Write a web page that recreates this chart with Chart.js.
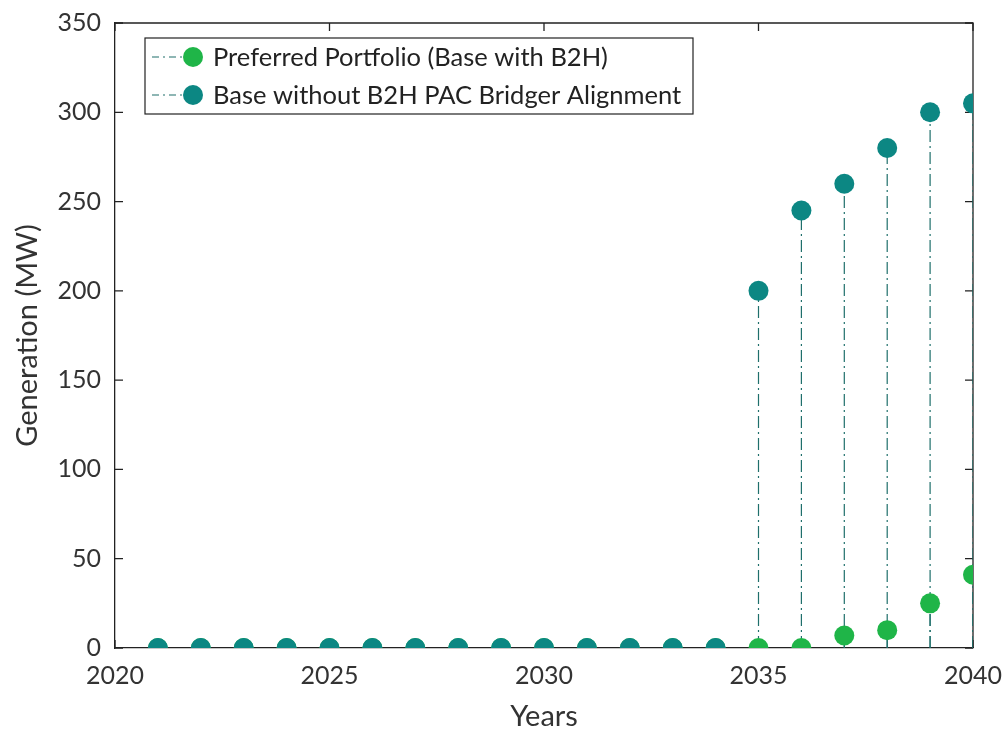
<!DOCTYPE html>
<html>
<head>
<meta charset="utf-8">
<script src="https://cdn.jsdelivr.net/npm/chart.js@4/dist/chart.umd.min.js"></script>
<style>
html,body{margin:0;padding:0;background:#fff;}
#wrap{width:1008px;height:734px;position:relative;}
</style>
</head>
<body>
<div id="wrap"><canvas id="c" width="1008" height="734"></canvas></div>
<script>
const years = [2021,2022,2023,2024,2025,2026,2027,2028,2029,2030,2031,2032,2033,2034,2035,2036,2037,2038,2039,2040];
const preferred = [0,0,0,0,0,0,0,0,0,0,0,0,0,0,0,0,7,10,25,41];
const baseNoB2H = [0,0,0,0,0,0,0,0,0,0,0,0,0,0,200,245,260,280,300,305];
const seriesNames = ['Preferred Portfolio (Base with B2H)','Base without B2H PAC Bridger Alignment'];
const xTicks = [2020,2025,2030,2035,2040];
const yTicks = [0,50,100,150,200,250,300,350];

const GREEN = '#1fb548';
const TEAL = '#0c8783';
const STEM = '#1f6f6b';
const FONT = 'Lato, "Open Sans", sans-serif';

function stemData(vals){
  const out = [];
  years.forEach((yr,i)=>{ out.push({x:yr,y:0}); out.push({x:yr,y:vals[i]}); out.push({x:yr,y:null}); });
  return out;
}
function pts(vals){ return years.map((yr,i)=>({x:yr,y:vals[i]})); }

const dashDot = [12,4,2,4];

const boxPlugin = {
  id:'boxTicks',
  beforeDatasetsDraw(chart){
    const {ctx, chartArea:a, scales:{x,y}} = chart;
    ctx.save();
    ctx.strokeStyle = '#222';
    ctx.lineWidth = 1.3;
    ctx.beginPath();
    ctx.moveTo(a.left, a.top); ctx.lineTo(a.right, a.top); ctx.lineTo(a.right, a.bottom);
    ctx.stroke();
    const L = 8;
    ctx.beginPath();
    xTicks.forEach(v=>{
      const px = x.getPixelForValue(v);
      ctx.moveTo(px, a.bottom); ctx.lineTo(px, a.bottom - L);
      ctx.moveTo(px, a.top); ctx.lineTo(px, a.top + L);
    });
    yTicks.forEach(v=>{
      const py = y.getPixelForValue(v);
      ctx.moveTo(a.left, py); ctx.lineTo(a.left + L, py);
      ctx.moveTo(a.right, py); ctx.lineTo(a.right - L, py);
    });
    ctx.stroke();
    ctx.restore();
  }
};

const legendPlugin = {
  id:'boxLegend',
  afterDraw(chart){
    const {ctx} = chart;
    const bx = 145, by = 38, bw = 548, bh = 76;
    ctx.save();
    ctx.fillStyle = '#fff';
    ctx.fillRect(bx,by,bw,bh);
    ctx.strokeStyle = '#222';
    ctx.lineWidth = 1.2;
    ctx.strokeRect(bx,by,bw,bh);
    const rows = [{c:GREEN, t:seriesNames[0], y:57},{c:TEAL, t:seriesNames[1], y:95}];
    rows.forEach(r=>{
      ctx.strokeStyle = STEM; ctx.lineWidth = 1.1;
      ctx.setLineDash([7,4,2,4]);
      ctx.beginPath(); ctx.moveTo(152, r.y); ctx.lineTo(190, r.y); ctx.stroke();
      ctx.setLineDash([]);
      ctx.fillStyle = r.c;
      ctx.beginPath(); ctx.arc(193, r.y, 10, 0, Math.PI*2); ctx.fill();
      ctx.fillStyle = '#222';
      ctx.font = '25.5px ' + FONT;
      ctx.textBaseline = 'middle';
      ctx.fillText(r.t, 213, r.y+1);
    });
    ctx.restore();
  }
};

new Chart(document.getElementById('c'), {
  type:'scatter',
  data:{
    datasets:[
      {label:seriesNames[1], data:pts(baseNoB2H), backgroundColor:TEAL, borderColor:TEAL, pointRadius:10, pointHoverRadius:10, pointBorderWidth:0, showLine:false, order:1},
      {label:seriesNames[0], data:pts(preferred), backgroundColor:GREEN, borderColor:GREEN, pointRadius:10, pointHoverRadius:10, pointBorderWidth:0, showLine:false, order:2},
      {label:'stem2', data:stemData(baseNoB2H), showLine:true, spanGaps:false, borderColor:STEM, borderWidth:1.2, borderDash:dashDot, pointRadius:0, order:3},
      {label:'stem1', data:stemData(preferred), showLine:true, spanGaps:false, borderColor:STEM, borderWidth:1.2, borderDash:dashDot, pointRadius:0, order:4}
    ]
  },
  options:{
    responsive:false,
    animation:false,
    devicePixelRatio:1,
    layout:{padding:{top:23,right:35,left:0,bottom:0}},
    plugins:{legend:{display:false}, tooltip:{enabled:false}},
    scales:{
      x:{
        type:'linear', min:2020, max:2040,
        afterBuildTicks(s){ s.ticks = xTicks.map(v=>({value:v})); },
        afterFit(s){ s.height = 86; s.paddingLeft = 0; s.paddingRight = 0; },
        grid:{display:false, drawTicks:false},
        border:{display:true, color:'#222', width:1.3},
        ticks:{color:'#333', font:{family:FONT, size:25}, padding:13, maxRotation:0, callback:v=>String(v)},
        title:{display:true, text:'Years', color:'#333', font:{family:FONT, size:29}, padding:{top:0,bottom:0}}
      },
      y:{
        min:0, max:350,
        afterBuildTicks(s){ s.ticks = yTicks.map(v=>({value:v})); },
        afterFit(s){ s.width = 115; s.paddingTop = 0; s.paddingBottom = 0; },
        grid:{display:false, drawTicks:false},
        border:{display:true, color:'#222', width:1.3},
        ticks:{color:'#333', font:{family:FONT, size:25}, padding:14},
        title:{display:true, text:'Generation (MW)', color:'#333', font:{family:FONT, size:29}, padding:{top:10,bottom:0}}
      }
    }
  },
  plugins:[boxPlugin, legendPlugin]
});
</script>
</body>
</html>
